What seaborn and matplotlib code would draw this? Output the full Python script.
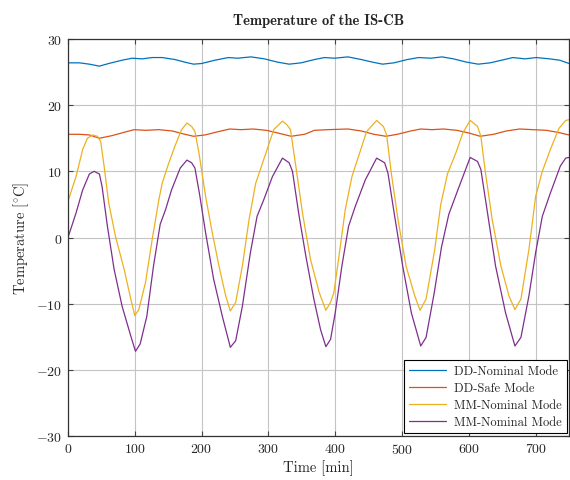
import matplotlib
matplotlib.use("Agg")
import matplotlib.pyplot as plt
import seaborn as sns

# DD-Nominal Mode (blue)
dd_nom_t = [0, 17, 32, 47, 61, 81, 96, 111, 126, 141, 160, 175, 188, 200, 220, 240, 254, 274, 294, 314,
            331, 349, 369, 384, 399, 419, 439, 456, 471, 488, 508, 525, 543, 560, 577, 597, 614, 632, 649,
            666, 684, 701, 721, 736, 750]
dd_nom_T = [26.4, 26.4, 26.2, 25.9, 26.3, 26.8, 27.1, 27.0, 27.2, 27.2, 26.9, 26.5, 26.2, 26.3, 26.8, 27.2,
            27.1, 27.3, 27.0, 26.5, 26.2, 26.4, 26.9, 27.2, 27.1, 27.3, 26.9, 26.5, 26.2, 26.4, 26.9, 27.2,
            27.1, 27.3, 27.0, 26.5, 26.2, 26.4, 26.8, 27.2, 27.0, 27.2, 27.0, 26.8, 26.3]

# DD-Safe Mode (orange)
dd_safe_t = [0, 17, 32, 47, 66, 84, 99, 116, 136, 156, 175, 188, 205, 225, 242, 259, 277, 297, 314, 334,
             354, 369, 389, 419, 439, 458, 476, 493, 513, 528, 545, 562, 582, 600, 617, 637, 656, 676, 696,
             716, 733, 750]
dd_safe_T = [15.6, 15.6, 15.5, 15.0, 15.4, 15.9, 16.3, 16.2, 16.3, 16.1, 15.6, 15.3, 15.5, 16.0, 16.4, 16.3,
             16.4, 16.2, 15.8, 15.3, 15.6, 16.2, 16.3, 16.4, 16.1, 15.6, 15.3, 15.6, 16.1, 16.4, 16.3, 16.4,
             16.2, 15.8, 15.3, 15.6, 16.1, 16.4, 16.3, 16.2, 15.9, 15.5]

# MM-Nominal Mode (yellow)
mm_a_t = [0, 12, 22, 29, 37, 44, 49, 54, 61, 71, 84, 94, 100, 106, 116, 126, 136, 141, 150, 160, 170, 178,
          185, 190, 196, 206, 216, 226, 236, 243, 251, 261, 271, 281, 288, 298, 308, 321, 328, 333, 341, 351,
          363, 376, 386, 393, 398, 405, 415, 425, 435, 447, 462, 472, 477, 484, 494, 506, 519, 527, 536, 549,
          558, 568, 581, 591, 602, 613, 618, 625, 635, 648, 660, 669, 678, 690, 700, 710, 722, 735, 745, 750]
mm_a_T = [5.5, 9.2, 13.3, 15.0, 15.5, 15.3, 14.5, 10.8, 5.2, 0.2, -4.8, -9.3, -11.8, -10.9, -6.8, -0.3, 5.7,
          8.2, 11.0, 13.8, 16.3, 17.3, 16.8, 16.0, 12.8, 6.2, 0.7, -4.3, -8.8, -11.1, -9.8, -4.3, 2.7, 8.2,
          10.3, 13.3, 16.3, 17.6, 17.0, 16.3, 10.8, 3.7, -3.3, -8.3, -11.0, -9.8, -8.3, -3.3, 4.2, 9.2, 12.3,
          16.0, 17.7, 16.8, 15.5, 9.7, 2.7, -4.3, -8.8, -11.0, -9.3, -1.8, 5.0, 9.6, 12.9, 15.8, 17.7, 16.8,
          15.3, 9.7, 2.7, -4.3, -8.8, -10.9, -9.3, -1.8, 6.2, 10.0, 13.3, 16.5, 17.7, 17.8]

# MM-Nominal Mode (purple)
mm_b_t = [0, 12, 22, 32, 39, 47, 51, 59, 69, 81, 94, 101, 108, 118, 128, 138, 146, 155, 168, 178, 185, 190,
          197, 206, 218, 231, 243, 251, 261, 273, 283, 293, 306, 321, 331, 336, 346, 356, 368, 378, 386, 393,
          400, 410, 420, 430, 445, 462, 474, 479, 489, 501, 514, 528, 536, 548, 559, 570, 584, 602, 613, 618,
          628, 640, 655, 669, 678, 690, 700, 710, 722, 737, 745, 750]
mm_b_T = [0.0, 3.7, 7.2, 9.6, 10.0, 9.6, 7.7, 1.7, -4.8, -10.4, -14.9, -17.2, -16.1, -11.9, -4.3, 2.0, 4.2,
          7.2, 10.5, 11.7, 11.3, 10.5, 6.5, 0.7, -6.3, -11.9, -16.6, -15.6, -10.4, -2.3, 3.2, 5.7, 9.2, 12.0,
          11.3, 10.0, 3.2, -2.8, -9.3, -13.9, -16.5, -15.4, -11.4, -4.3, 1.7, 4.7, 8.7, 12.0, 11.3, 9.7, 3.2,
          -4.3, -11.4, -16.4, -15.1, -8.5, -1.5, 3.5, 7.3, 12.1, 11.5, 10.3, 3.7, -4.3, -11.4, -16.4, -15.1,
          -8.8, -2.3, 3.2, 6.7, 10.8, 12.0, 12.1]

sns.set_theme(style="ticks")
plt.rcParams["font.family"] = "cmr10"
plt.rcParams["mathtext.fontset"] = "cm"
plt.rcParams["axes.formatter.use_mathtext"] = True
plt.rcParams["axes.unicode_minus"] = False

fig = plt.figure(figsize=(5.7, 4.81), dpi=100)
ax = fig.add_axes([0.1193, 0.0915, 0.879, 0.8253])

series = [
    (dd_nom_t, dd_nom_T, "DD-Nominal Mode", "#0072BD"),
    (dd_safe_t, dd_safe_T, "DD-Safe Mode", "#D95319"),
    (mm_a_t, mm_a_T, "MM-Nominal Mode", "#EDB120"),
    (mm_b_t, mm_b_T, "MM-Nominal Mode", "#7E2F8E"),
]
for t, T, lab, col in series:
    sns.lineplot(x=t, y=T, ax=ax, label=lab, color=col, linewidth=0.9, estimator=None, sort=False)

ax.set_xlim(0, 750)
ax.set_ylim(-30, 30)
ax.set_xticks(range(0, 701, 100))
ax.set_yticks(range(-30, 31, 10))
ax.grid(True, color="#c4c4c4", linewidth=0.8)
ax.tick_params(direction="in", top=True, right=True, length=3.5, width=0.8,
               color="#444444", labelsize=10, pad=4)
for s in ax.spines.values():
    s.set_color("#333333")
    s.set_linewidth(0.9)

ax.set_xlabel("Time [min]", fontsize=10.5, labelpad=3)
ax.set_ylabel(r"Temperature [$^{\circ}$C]", fontsize=10.5, labelpad=4)
ax.set_title("Temperature of the IS-CB", fontfamily="cmb10", fontsize=10.5, pad=11)

leg = ax.legend(loc="lower right", fontsize=9, frameon=True, fancybox=False, framealpha=1,
                edgecolor="black", borderaxespad=0.2, handlelength=3.0, labelspacing=0.4,
                borderpad=0.4, handletextpad=0.6)
leg.get_frame().set_linewidth(0.8)

fig.savefig("out.png", dpi=100)
